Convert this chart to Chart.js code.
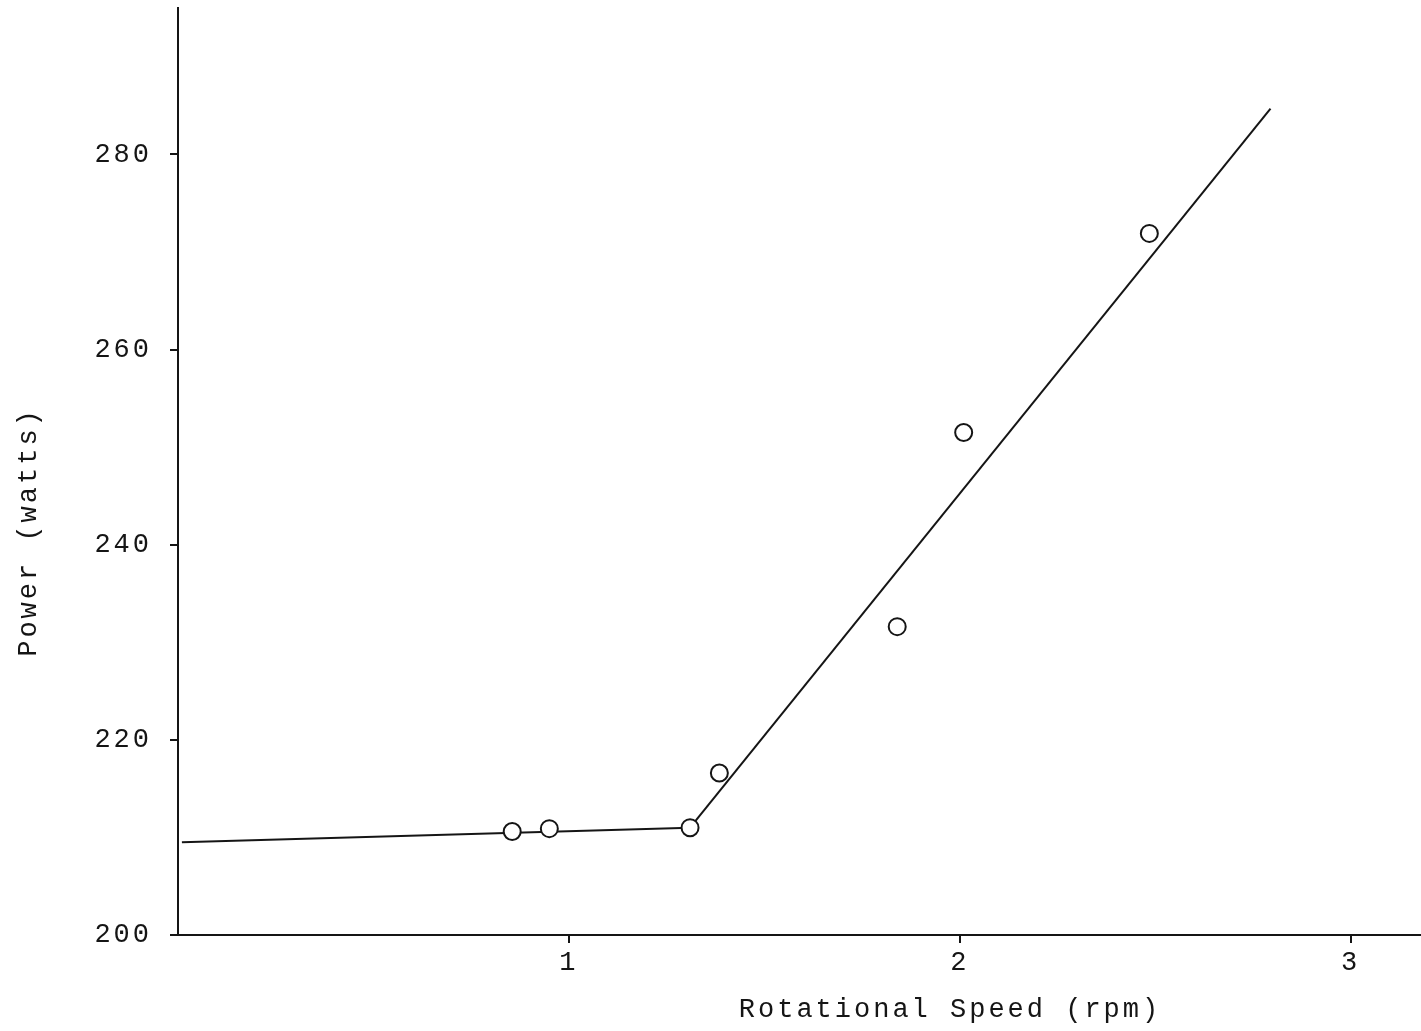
<!DOCTYPE html>
<html>
<head>
<meta charset="utf-8">
<title>Power vs Rotational Speed</title>
<script src="https://cdn.jsdelivr.net/npm/chart.js@4.4.1/dist/chart.umd.min.js"></script>
<style>
    html, body { margin: 0; padding: 0; background: #fff; overflow: hidden; }
    #powerChart { display: block; }
</style>
</head>
<body>
<canvas id="powerChart" width="1421" height="1031"></canvas>
<script>
// Measured points (rpm, watts)
const speedRpm = [0.855, 0.95, 1.31, 1.385, 1.84, 2.01, 2.485];
const powerWatts = [210.6, 210.9, 211.0, 216.6, 231.6, 251.5, 271.9];

// Hand-drawn fit lines
const lowFitSpeed = [0.01, 1.31];
const lowFitPower = [209.5, 211.0];
const highFitSpeed = [1.31, 2.795];
const highFitPower = [211.0, 284.7];

// Tick labels
const xTicks = [1, 2, 3];
const yTicks = [200, 220, 240, 260, 280];

const xTitle = 'Rotational Speed (rpm)';
const yTitle = 'Power (watts)';

const FONT = '"Liberation Mono", "DejaVu Sans Mono", monospace';
const INK = '#151515';

function toPoints(xs, ys) {
    return xs.map(function(x, i) { return { x: x, y: ys[i] }; });
}

// typewriter look: extra spacing between letters
const spacingPlugin = {
    id: 'spacing',
    beforeLayout: function(chart) { chart.ctx.letterSpacing = '3px'; },
    beforeDraw: function(chart) {
        const ctx = chart.ctx;
        ctx.save();
        ctx.fillStyle = '#ffffff';
        ctx.fillRect(0, 0, chart.width, chart.height);
        ctx.restore();
        ctx.letterSpacing = '3px';
    }
};

// axis titles sit off-centre in the original, so place them by hand
const axisTitlePlugin = {
    id: 'axisTitles',
    afterDraw: function(chart) {
        const ctx = chart.ctx;
        ctx.save();
        ctx.letterSpacing = '3px';
        ctx.font = '27px ' + FONT;
        ctx.fillStyle = INK;
        ctx.textAlign = 'center';
        ctx.textBaseline = 'middle';
        ctx.fillText(xTitle, 950, 1010);
        ctx.translate(29, 532);
        ctx.rotate(-Math.PI / 2);
        ctx.fillText(yTitle, 0, 0);
        ctx.restore();
    }
};

// no extra room for end labels, the plot fills the page edge to edge
function noPadding(scale) {
    scale.paddingTop = 0;
    scale.paddingBottom = 0;
    scale.paddingLeft = 0;
    scale.paddingRight = 0;
}

const ctx = document.getElementById('powerChart').getContext('2d');
const powerChart = new Chart(ctx, {
    type: 'scatter',
    data: {
        datasets: [
            {
                label: 'Measured',
                data: toPoints(speedRpm, powerWatts),
                pointRadius: 8.5,
                pointBorderWidth: 2,
                pointBackgroundColor: '#ffffff',
                pointBorderColor: INK,
                showLine: false
            },
            {
                label: 'Low speed fit',
                data: toPoints(lowFitSpeed, lowFitPower),
                showLine: true,
                borderColor: INK,
                borderWidth: 2,
                pointRadius: 0
            },
            {
                label: 'High speed fit',
                data: toPoints(highFitSpeed, highFitPower),
                showLine: true,
                borderColor: INK,
                borderWidth: 2,
                pointRadius: 0
            }
        ]
    },
    options: {
        responsive: false,
        animation: false,
        layout: {
            autoPadding: false,
            padding: { top: 8, right: 0, left: 0, bottom: 0 }
        },
        plugins: {
            legend: { display: false },
            tooltip: { enabled: false }
        },
        scales: {
            x: {
                type: 'linear',
                min: 0,
                max: 3.18,
                afterBuildTicks: function(scale) {
                    scale.ticks = xTicks.map(function(v) { return { value: v }; });
                },
                afterFit: function(scale) {
                    scale.height = 96;
                    noPadding(scale);
                },
                border: { display: true, color: INK, width: 2 },
                grid: {
                    drawOnChartArea: false,
                    drawTicks: true,
                    tickLength: 8,
                    color: INK,
                    lineWidth: 2
                },
                ticks: {
                    color: INK,
                    padding: 4,
                    maxRotation: 0,
                    font: { family: FONT, size: 27 }
                }
            },
            y: {
                type: 'linear',
                min: 200,
                max: 295,
                afterBuildTicks: function(scale) {
                    scale.ticks = yTicks.map(function(v) { return { value: v }; });
                },
                afterFit: function(scale) {
                    scale.width = 178;
                    noPadding(scale);
                },
                border: { display: true, color: INK, width: 2 },
                grid: {
                    drawOnChartArea: false,
                    drawTicks: true,
                    tickLength: 8,
                    color: INK,
                    lineWidth: 2
                },
                ticks: {
                    color: INK,
                    padding: 18,
                    font: { family: FONT, size: 27 }
                }
            }
        }
    },
    plugins: [spacingPlugin, axisTitlePlugin]
});
</script>
</body>
</html>
